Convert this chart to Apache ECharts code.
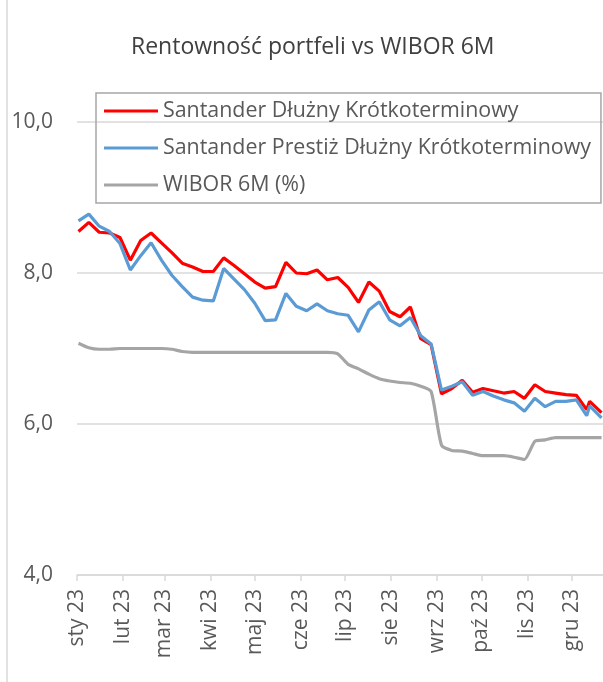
<!DOCTYPE html>
<html>
<head>
    <meta charset="utf-8">
    <script type="text/javascript" src="https://cdn.jsdelivr.net/npm/echarts@6/dist/echarts.min.js"></script>
    <title>Rentowność portfeli vs WIBOR 6M</title>
    <style>
        html, body { margin: 0; padding: 0; background: #fff; }
        #main { width: 603px; height: 682px; }
    </style>
</head>
<body>
<div id="main"></div>
<script type="text/javascript">
    // daty notowań (tygodniowo, koniec grudnia nieregularnie)
    var dates = [
        '2023-01-02', '2023-01-09', '2023-01-16', '2023-01-23', '2023-01-30',
        '2023-02-06', '2023-02-13', '2023-02-20', '2023-02-27',
        '2023-03-06', '2023-03-13', '2023-03-20', '2023-03-27',
        '2023-04-03', '2023-04-10', '2023-04-17', '2023-04-24',
        '2023-05-01', '2023-05-08', '2023-05-15', '2023-05-22', '2023-05-29',
        '2023-06-05', '2023-06-12', '2023-06-19', '2023-06-26',
        '2023-07-03', '2023-07-10', '2023-07-17', '2023-07-24', '2023-07-31',
        '2023-08-07', '2023-08-14', '2023-08-21', '2023-08-28',
        '2023-09-04', '2023-09-11', '2023-09-18', '2023-09-25',
        '2023-10-02', '2023-10-09', '2023-10-16', '2023-10-23', '2023-10-30',
        '2023-11-06', '2023-11-13', '2023-11-20', '2023-11-27',
        '2023-12-04', '2023-12-11', '2023-12-13', '2023-12-21'
    ];
    var dluzny = [
        8.55, 8.67, 8.54, 8.53, 8.47, 8.17, 8.43, 8.53, 8.40, 8.27, 8.13, 8.08, 8.02,
        8.02, 8.20, 8.10, 7.99, 7.88, 7.80, 7.82, 8.14, 8.00, 7.99, 8.04, 7.91, 7.94,
        7.81, 7.61, 7.88, 7.76, 7.49, 7.42, 7.55, 7.13, 7.05, 6.40, 6.47, 6.58, 6.42,
        6.47, 6.44, 6.41, 6.43, 6.34, 6.52, 6.43, 6.41, 6.39, 6.38, 6.19, 6.30, 6.15
    ];
    var prestiz = [
        8.69, 8.78, 8.62, 8.55, 8.39, 8.04, 8.23, 8.40, 8.17, 7.97, 7.82, 7.68, 7.64,
        7.63, 8.06, 7.92, 7.78, 7.60, 7.37, 7.38, 7.73, 7.56, 7.50, 7.59, 7.50, 7.46,
        7.44, 7.22, 7.51, 7.62, 7.38, 7.30, 7.41, 7.17, 7.06, 6.45, 6.50, 6.56, 6.38,
        6.43, 6.37, 6.32, 6.28, 6.17, 6.34, 6.23, 6.30, 6.30, 6.32, 6.11, 6.24, 6.08
    ];
    var wibor = [
        7.07, 7.01, 6.99, 6.99, 7.00, 7.00, 7.00, 7.00, 7.00, 6.99, 6.96, 6.95, 6.95,
        6.95, 6.95, 6.95, 6.95, 6.95, 6.95, 6.95, 6.95, 6.95, 6.95, 6.95, 6.95, 6.93,
        6.79, 6.73, 6.66, 6.60, 6.57, 6.55, 6.54, 6.50, 6.43, 5.72, 5.65, 5.64, 5.61,
        5.58, 5.58, 5.58, 5.56, 5.53, 5.77, 5.79, 5.82, 5.82, 5.82, 5.82, 5.82, 5.82
    ];
    var monthTicks = [
        '2023-01-01', '2023-02-01', '2023-03-01', '2023-04-01', '2023-05-01', '2023-06-01',
        '2023-07-01', '2023-08-01', '2023-09-01', '2023-10-01', '2023-11-01', '2023-12-01'
    ];
    var monthNames = ['sty', 'lut', 'mar', 'kwi', 'maj', 'cze', 'lip', 'sie', 'wrz', 'paź', 'lis', 'gru'];

    // 'YYYY-MM-DD' -> timestamp (czas lokalny)
    function ts(s) {
        var p = s.split('-');
        return new Date(+p[0], +p[1] - 1, +p[2]).getTime();
    }

    function pairs(vals) {
        var out = [];
        for (var i = 0; i < vals.length; i++) {
            out.push([ts(dates[i]), vals[i]]);
        }
        return out;
    }

    var tickValues = monthTicks.map(ts);
    var font = '"Open Sans", sans-serif';
    var myChart = echarts.init(document.getElementById('main'));
    var option = {
        animation: false,
        title: {
            text: 'Rentowność portfeli vs WIBOR 6M',
            left: 126,
            top: 31,
            textStyle: {fontFamily: font, fontSize: 23, fontWeight: 'normal', color: '#404040'}
        },
        legend: {
            orient: 'vertical',
            left: 96,
            top: 93,
            padding: [5, 10, 5, 8],
            itemGap: 11,
            itemWidth: 54,
            itemHeight: 3,
            icon: 'rect',
            borderColor: '#a6a6a6',
            borderWidth: 1.5,
            textStyle: {fontFamily: font, fontSize: 21.4, color: '#595959', lineHeight: 26}
        },
        grid: {left: 77, right: 0, top: 122, bottom: 107, containLabel: false},
        xAxis: {
            type: 'value',
            min: ts('2023-01-01'),
            max: ts('2023-12-22'),
            axisLine: {lineStyle: {color: '#d9d9d9', width: 1.5}},
            axisTick: {show: true, length: 6, lineStyle: {color: '#d9d9d9', width: 1.5}, customValues: tickValues},
            splitLine: {show: false},
            axisLabel: {
                customValues: tickValues,
                rotate: 90,
                margin: 14,
                padding: [4, 0, 0, 0],
                fontFamily: font,
                fontSize: 21,
                color: '#595959',
                formatter: function (value) {
                    return monthNames[new Date(value).getMonth()] + ' 23';
                }
            }
        },
        yAxis: {
            type: 'value',
            min: 4,
            max: 10,
            interval: 2,
            axisLine: {show: false},
            axisTick: {show: false},
            splitLine: {lineStyle: {color: '#d9d9d9', width: 1.5}},
            axisLabel: {
                margin: 24,
                fontFamily: font,
                fontSize: 21,
                color: '#595959',
                formatter: function (v) {
                    return v.toFixed(1).replace('.', ',');
                }
            }
        },
        series: [{
            name: 'Santander Dłużny Krótkoterminowy',
            type: 'line',
            data: pairs(dluzny),
            showSymbol: false,
            color: '#ff0000',
            lineStyle: {width: 3.2}
        }, {
            name: 'Santander Prestiż Dłużny Krótkoterminowy',
            type: 'line',
            data: pairs(prestiz),
            showSymbol: false,
            color: '#5b9bd5',
            lineStyle: {width: 3.2}
        }, {
            name: 'WIBOR 6M (%)',
            type: 'line',
            data: pairs(wibor),
            showSymbol: false,
            smooth: 0.2,
            color: '#a5a5a5',
            lineStyle: {width: 3.2}
        }],
        graphic: [{
            type: 'line',
            shape: {x1: 7, y1: 0, x2: 7, y2: 682},
            style: {stroke: '#d9d9d9', lineWidth: 1.5}
        }]
    };
    myChart.setOption(option);
</script>
</body>
</html>
